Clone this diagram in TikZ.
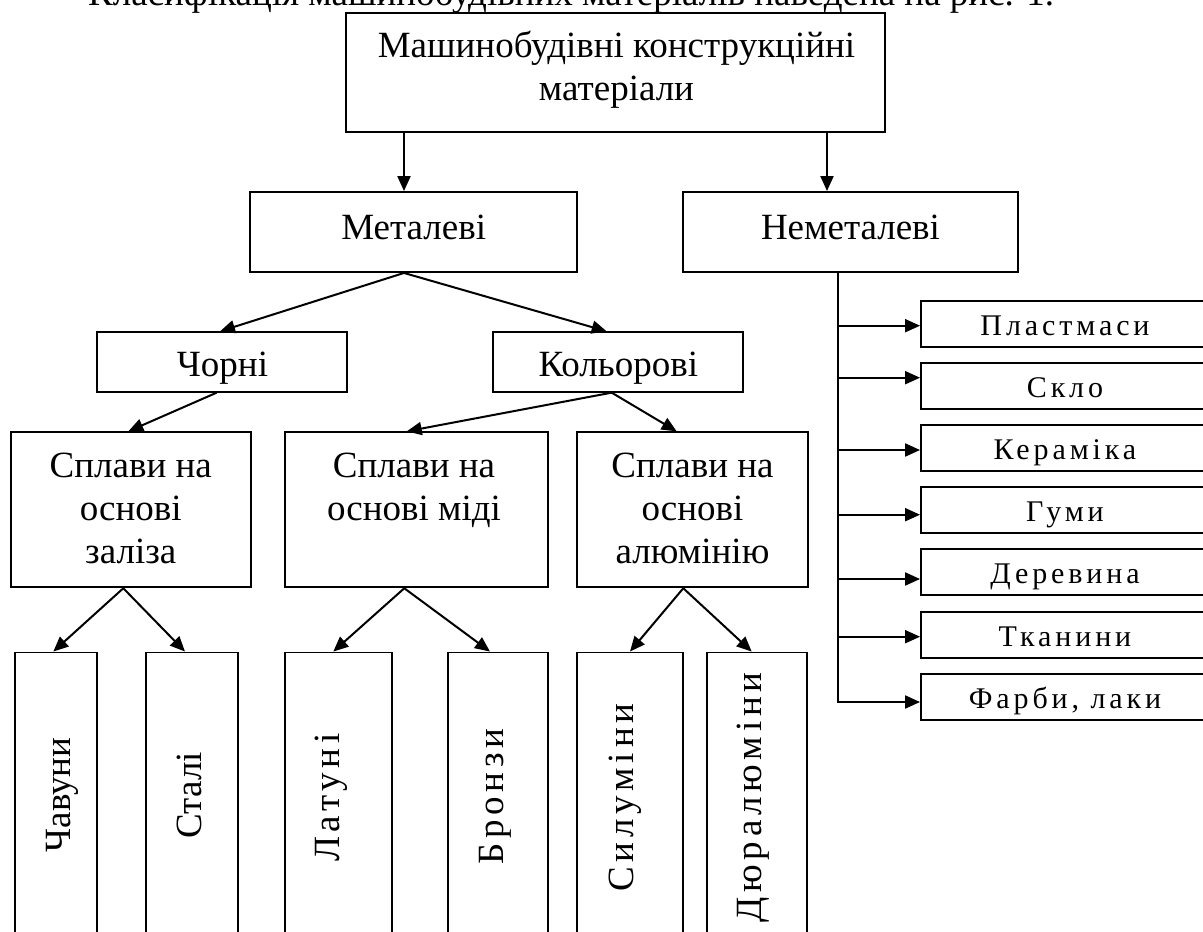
\documentclass[tikz,border=0pt]{standalone}
\usepackage{fontspec}
\setmainfont{Liberation Serif}
\newfontfamily\spaced[LetterSpace=13]{Liberation Serif}
\usetikzlibrary{arrows.meta}
\begin{document}
\begin{tikzpicture}[x=1pt,y=-1pt,
  box/.style={draw, line width=1.9pt, inner sep=0pt},
  txt/.style={inner sep=0pt, font=\fontsize{37}{43}\selectfont, align=center},
  rtxt/.style={inner sep=0pt, font=\fontsize{30}{36}\selectfont\spaced},
  arr/.style={line width=2pt, -{Triangle[length=15pt,width=13pt]}}]
\useasboundingbox (0,0) rectangle (1203,932);
% clipped heading line above the figure
\node[txt, anchor=base west] (head) at (88,5) {Класифікація машинобудівних матеріалів наведена на рис. 1.};
% top box
\node[box, minimum width=539pt, minimum height=119.3pt] (top) at (615.5,72.35) {};
\node[txt, anchor=base] (topT) at (616.5,100) {Машинобудівні конструкційні\\матеріали};
% level 1
\node[box, minimum width=327pt, minimum height=80pt] (met) at (413.5,232) {};
\node[txt, anchor=base] (metT) at (413.7,239.3) {Металеві};
\node[box, minimum width=335pt, minimum height=80pt] (nem) at (850.5,232) {};
\node[txt, anchor=base] (nemT) at (850.5,239.3) {Неметалеві};
% level 2
\node[box, minimum width=250pt, minimum height=59.4pt] (chorni) at (221.7,362) {};
\node[txt, anchor=base] (chorniT) at (222.5,376.7) {Чорні};
\node[box, minimum width=250pt, minimum height=59.4pt] (kol) at (618.3,362) {};
\node[txt, anchor=base] (kolT) at (618.3,376.7) {Кольорові};
% level 3
\node[box, minimum width=239.7pt, minimum height=155pt] (zal) at (130.8,509.8) {};
\node[txt, anchor=base] (zalT) at (130.8,563) {Сплави на\\основі\\заліза};
\node[box, minimum width=263.3pt, minimum height=155pt] (midi) at (416.7,509.8) {};
\node[txt, anchor=base] (midiT) at (414,520) {Сплави на\\основі міді};
\node[box, minimum width=231.3pt, minimum height=155pt] (alu) at (692.3,509.8) {};
\node[txt, anchor=base] (aluT) at (692.5,563) {Сплави на\\основі\\алюмінію};
% level 4 (vertical)
\node[box, minimum width=81.7pt, minimum height=292.5pt] (chav) at (55.8,798.75) {};
\node[txt, rotate=90, anchor=base] (chavT) at (70.5,795) {Чавуни};
\node[box, minimum width=92pt, minimum height=292.5pt] (stali) at (192,798.75) {};
\node[txt, rotate=90, anchor=base] (staliT) at (201,795.3) {Сталі};
\node[box, minimum width=106.7pt, minimum height=292.5pt] (lat) at (338.3,798.75) {};
\node[txt, rotate=90, anchor=base] (latT) at (339.5,797.5) {\spaced Латуні};
\node[box, minimum width=100pt, minimum height=292.5pt] (bron) at (498.3,798.75) {};
\node[txt, rotate=90, anchor=base] (bronT) at (503,796.7) {\spaced Бронзи};
\node[box, minimum width=106.7pt, minimum height=292.5pt] (sil) at (630,798.75) {};
\node[txt, rotate=90, anchor=base] (silT) at (633,797.5) {\spaced Силуміни};
\node[box, minimum width=100.7pt, minimum height=292.5pt] (dur) at (757,798.75) {};
\node[txt, rotate=90, anchor=base] (durT) at (761,797.5) {\spaced Дюралюміни};
% right column
\node[box, minimum width=288pt, minimum height=46pt] (plast) at (1065,323.7) {};
\node[rtxt, anchor=base] (plastT) at (1065,335.2) {Пластмаси};
\node[box, minimum width=288pt, minimum height=46pt] (sklo) at (1065,385.7) {};
\node[rtxt, anchor=base] (skloT) at (1065,397.2) {Скло};
\node[box, minimum width=288pt, minimum height=46pt] (ker) at (1065,448) {};
\node[rtxt, anchor=base] (kerT) at (1065,459.5) {Кераміка};
\node[box, minimum width=288pt, minimum height=46pt] (gum) at (1065,510.3) {};
\node[rtxt, anchor=base] (gumT) at (1065,521.8) {Гуми};
\node[box, minimum width=288pt, minimum height=46pt] (der) at (1065,572.3) {};
\node[rtxt, anchor=base] (derT) at (1065,583.8) {Деревина};
\node[box, minimum width=288pt, minimum height=46pt] (tkan) at (1065,634.7) {};
\node[rtxt, anchor=base] (tkanT) at (1065,646.2) {Тканини};
\node[box, minimum width=288pt, minimum height=46pt] (farb) at (1065,696.7) {};
\node[rtxt, anchor=base] (farbT) at (1065,708.2) {Фарби, лаки};
% connectors
\draw[arr] ([xshift=-211.5pt]top.south) -- ([xshift=-9.5pt]met.north);
\draw[arr] ([xshift=211.5pt]top.south) -- ([xshift=-23.5pt]nem.north);
\draw[arr] ([xshift=-9.5pt]met.south) -- ([xshift=-1.7pt]chorni.north);
\draw[arr] ([xshift=-9.5pt]met.south) -- ([xshift=-11.6pt]kol.north);
\draw[arr] ([xshift=-5pt]chorni.south) -- ([xshift=-2.5pt]zal.north);
\draw[arr] ([xshift=-6.6pt]kol.south) -- ([xshift=-10pt]midi.north);
\draw[arr] ([xshift=-6.6pt]kol.south) -- ([xshift=-15.6pt]alu.north);
\draw[arr] ([xshift=-7.5pt]zal.south) -- ([xshift=-2.5pt]chav.north);
\draw[arr] ([xshift=-7.5pt]zal.south) -- ([xshift=-7pt]stali.north);
\draw[arr] ([xshift=-12.4pt]midi.south) -- ([xshift=-5pt]lat.north);
\draw[arr] ([xshift=-12.4pt]midi.south) -- ([xshift=-8.3pt]bron.north);
\draw[arr] ([xshift=-9pt]alu.south) -- (sil.north);
\draw[arr] ([xshift=-9pt]alu.south) -- ([xshift=-5.3pt]dur.north);
% trunk on the right
\coordinate (trunkTop) at ([xshift=-12.5pt]nem.south);
\coordinate (pa) at ([yshift=-2pt]plast.west);
\coordinate (sa) at ([yshift=8pt]sklo.west);
\coordinate (ka) at ([yshift=-2pt]ker.west);
\coordinate (ga) at ([yshift=-4.4pt]gum.west);
\coordinate (da) at ([yshift=-6.7pt]der.west);
\coordinate (ta) at ([yshift=-2pt]tkan.west);
\coordinate (fa) at ([yshift=-5.3pt]farb.west);
\draw[arr] (trunkTop) |- (fa);
\draw[arr] (pa -| trunkTop) -- (pa);
\draw[arr] (sa -| trunkTop) -- (sa);
\draw[arr] (ka -| trunkTop) -- (ka);
\draw[arr] (ga -| trunkTop) -- (ga);
\draw[arr] (da -| trunkTop) -- (da);
\draw[arr] (ta -| trunkTop) -- (ta);
\end{tikzpicture}
\end{document}
